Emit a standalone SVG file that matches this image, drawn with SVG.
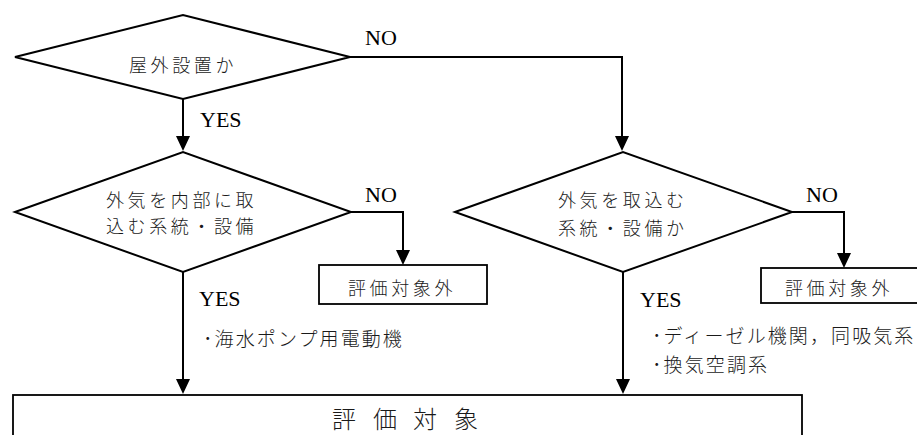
<svg xmlns="http://www.w3.org/2000/svg" width="917" height="435" viewBox="0 0 917 435">
<style>
.shape{fill:#fff;stroke:#000;stroke-width:2}
.box{fill:#fff;stroke:#000;stroke-width:1.8}
.line{fill:none;stroke:#000;stroke-width:2}
.jp{font-family:"Noto Sans CJK JP","Noto Sans CJK SC",sans-serif;font-weight:300;fill:#1a1a1a}
.dt{font-size:18px;letter-spacing:3.6px}
.bt{font-size:19px;letter-spacing:2.1px}
.lbl{font-family:"Liberation Serif","Times New Roman",serif;font-size:22px;fill:#000}
</style>
<g id="connectors">
<path class="line" d="M183,99 V140"/>
<path class="line" d="M350,57 H622 V140"/>
<path class="line" d="M350,212 H403 V255"/>
<path class="line" d="M792,212 H844 V258"/>
<path class="line" d="M183,272 V384"/>
<path class="line" d="M623,272 V384"/>
<path d="M176,136 L190,136 L183,151 Z"/>
<path d="M615,136 L629,136 L622,151 Z"/>
<path d="M396,250 L410,250 L403,265 Z"/>
<path d="M837,253 L851,253 L844,268 Z"/>
<path d="M176,379 L190,379 L183,394 Z"/>
<path d="M616,379 L630,379 L623,394 Z"/>
<text class="lbl" x="365" y="45">NO</text>
<text class="lbl" x="200" y="127">YES</text>
<text class="lbl" x="365" y="202">NO</text>
<text class="lbl" x="806" y="202">NO</text>
<text class="lbl" x="199" y="306">YES</text>
<text class="lbl" x="640" y="307">YES</text>
</g>
<g id="q1">
<polygon class="shape" points="15,57 183,15 350,57 183,99"/>
<text class="jp dt" x="129" y="72">屋外設置か</text>
</g>
<g id="q2">
<polygon class="shape" points="15,212 183,152 351,212 183,272"/>
<text class="jp dt" x="106" y="207">外気を内部に取</text>
<text class="jp dt" x="106" y="233">込む系統・設備</text>
</g>
<g id="q3">
<polygon class="shape" points="455,212 623,152 792,212 623,272"/>
<text class="jp dt" x="558" y="207">外気を取込む</text>
<text class="jp dt" x="558" y="235">系統・設備か</text>
</g>
<g id="out1">
<rect class="box" x="319" y="265" width="168" height="39"/>
<text class="jp dt" x="348" y="295">評価対象外</text>
</g>
<g id="out2">
<rect class="box" x="761" y="268" width="170" height="35"/>
<text class="jp dt" x="785" y="295">評価対象外</text>
</g>
<g id="note1">
<text class="jp bt" x="203" y="346">･海水ポンプ用電動機</text>
</g>
<g id="note2">
<text class="jp bt" x="652" y="343">･ディーゼル機関，同吸気系</text>
<text class="jp bt" x="652" y="372">･換気空調系</text>
</g>
<g id="target">
<rect class="box" x="13" y="395" width="789" height="60"/>
<text class="jp" font-size="24" x="332 373 413 454" y="428">評価対象</text>
</g>
</svg>
